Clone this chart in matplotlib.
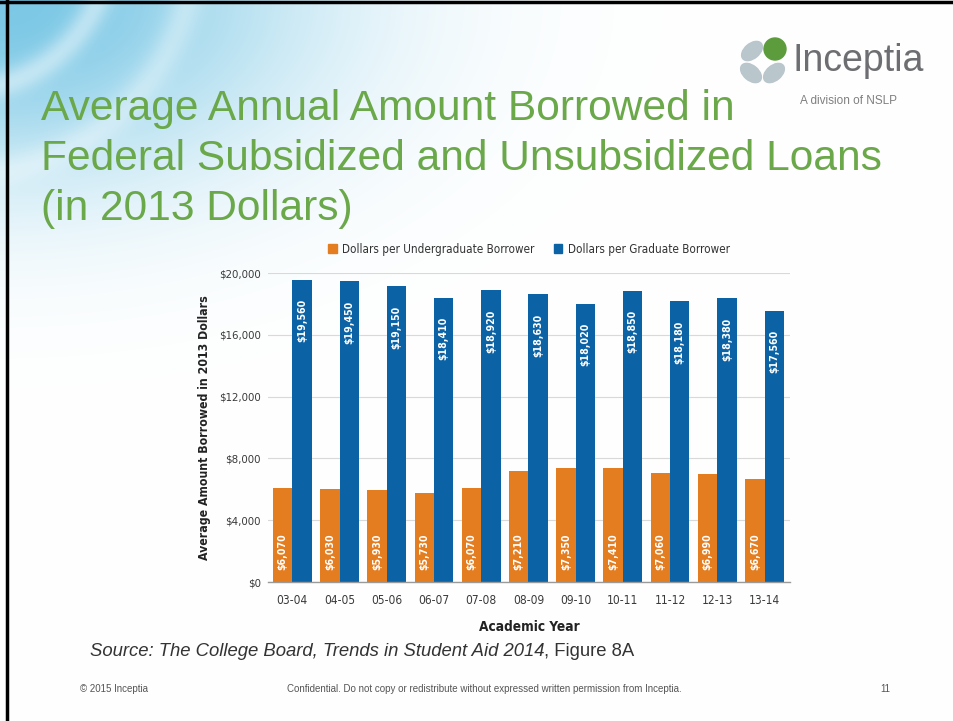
import numpy as np
import matplotlib.pyplot as plt
from matplotlib.patches import Patch, Ellipse, Circle

years = ["03-04", "04-05", "05-06", "06-07", "07-08", "08-09",
         "09-10", "10-11", "11-12", "12-13", "13-14"]
undergrad = [6070, 6030, 5930, 5730, 6070, 7210, 7350, 7410, 7060, 6990, 6670]
graduate = [19560, 19450, 19150, 18410, 18920, 18630, 18020, 18850, 18180, 18380, 17560]
series_names = ["Dollars per Undergraduate Borrower", "Dollars per Graduate Borrower"]
y_ticks = [0, 4000, 8000, 12000, 16000, 20000]

ORANGE = "#E37D20"
BLUE = "#0B63A6"
GREEN = "#6AA84A"
NARROW = dict(family="DejaVu Sans", stretch="condensed")
SANS = ["Liberation Sans", "DejaVu Sans"]

W, H = 954, 721
fig = plt.figure(figsize=(W / 100, H / 100), dpi=100)

# slide background in pixel coordinates: cyan swoosh in the top-left corner
bg = fig.add_axes([0, 0, 1, 1], zorder=-10)
yy, xx = np.mgrid[0:H, 0:W]
glow = np.exp(-((xx / 300.0) ** 2 + (yy / 175.0) ** 2))
r = np.hypot(xx + 40, yy + 60)
rings = (1 - 0.45 * np.exp(-((r - 150) / 14.0) ** 2)
         - 0.35 * np.exp(-((r - 235) / 16.0) ** 2))
alpha = np.clip(glow * rings * 0.85, 0, 1)
cyan = np.array([100, 190, 225]) / 255.0
img = 1 - alpha[..., None] * (1 - cyan)
bg.imshow(img, extent=(0, W, H, 0), aspect="auto", interpolation="bilinear")
bg.set_xlim(0, W)
bg.set_ylim(H, 0)
bg.axis("off")
bg.plot([7, 7], [0, H], color="black", lw=2.5)
bg.plot([0, W], [2, 2], color="black", lw=2.5)

# logo
for (cx, cy, ang) in [(752, 51, -40), (751, 73, 40), (774, 73, -40)]:
    bg.add_patch(Ellipse((cx, cy), 24, 15, angle=ang, color="#b9c6cc"))
bg.add_patch(Circle((775, 49), 11, color="#5c9c3c"))
bg.text(793, 61, "Inceptia", fontsize=27, color="#6d6e71", va="center",
        family=SANS)
bg.text(800, 101, "A division of NSLP", fontsize=8.5, color="#7f7f7f",
        va="center", family=SANS)

# title
title_lines = ["Average Annual Amount Borrowed in",
               "Federal Subsidized and Unsubsidized Loans",
               "(in 2013 Dollars)"]
for i, line in enumerate(title_lines):
    bg.text(41, 109 + 50 * i, line, fontsize=30.6, color=GREEN, va="center",
            family=SANS)

# source and footer
src = bg.text(90, 652, "Source: The College Board, Trends in Student Aid 2014",
              fontsize=13.3, style="italic", color="#333333", va="center",
              family=SANS)
bg.annotate(", Figure 8A", xy=(1, 0), xycoords=src, va="bottom", ha="left",
            fontsize=13.3, color="#333333", family=SANS)
bg.text(80, 689, "\u00a9 2015 Inceptia", fontsize=7, color="#555555",
        va="center", family=SANS)
bg.text(484, 689, "Confidential. Do not copy or redistribute without expressed "
        "written permission from Inceptia.", fontsize=7, color="#555555",
        va="center", ha="center", family=SANS)
bg.text(880, 689, "11", fontsize=7, color="#555555", va="center", family=SANS)

# bar chart
ax = fig.add_axes([268 / W, 1 - 582 / H, (790 - 268) / W, (582 - 273) / H])
x = np.arange(len(years))
w = 0.41
ax.bar(x - w / 2, undergrad, w, color=ORANGE, zorder=2)
ax.bar(x + w / 2, graduate, w, color=BLUE, zorder=2)

for xi, v in zip(x, undergrad):
    ax.annotate(f"${v:,}", (xi - w / 2, 0), xytext=(0, 9),
                textcoords="offset points", rotation=90, ha="center",
                va="bottom", color="white", fontsize=7.6, fontweight="bold",
                zorder=3, **NARROW)
for xi, v in zip(x, graduate):
    ax.annotate(f"${v:,}", (xi + w / 2, v), xytext=(0, -14),
                textcoords="offset points", rotation=90, ha="center",
                va="top", color="white", fontsize=7.6, fontweight="bold",
                zorder=3, **NARROW)

ax.set_xlim(-0.515, 10.54)
ax.set_ylim(0, 20000)
ax.set_yticks(y_ticks)
ax.set_yticklabels([f"${t:,}" for t in y_ticks], fontsize=8.2,
                   color="#3a3a3a", **NARROW)
ax.set_xticks(x)
ax.set_xticklabels(years, fontsize=8.6, color="#3a3a3a", **NARROW)
ax.tick_params(length=0)
ax.tick_params(axis="x", pad=9)
ax.tick_params(axis="y", pad=5)
ax.yaxis.grid(True, color="#d9d9d9", lw=0.8, zorder=0)
ax.set_axisbelow(True)
for side in ["top", "right", "left"]:
    ax.spines[side].set_visible(False)
ax.spines["bottom"].set_color("#9a9a9a")
ax.spines["bottom"].set_linewidth(1.0)
ax.patch.set_alpha(0)

ax.set_xlabel("Academic Year", fontsize=9.8, fontweight="bold",
              color="#222222", labelpad=9, **NARROW)
ax.set_ylabel("Average Amount Borrowed in 2013 Dollars", fontsize=8.8,
              fontweight="bold", color="#222222", labelpad=6, **NARROW)

handles = [Patch(color=ORANGE), Patch(color=BLUE)]
leg = ax.legend(handles, series_names, loc="center",
                bbox_to_anchor=(0.5, (582 - 249) / (582 - 273)), ncol=2,
                frameon=False, handlelength=0.7, handleheight=0.7,
                handletextpad=0.5, columnspacing=1.6,
                prop={"size": 8.4, **NARROW})
for t in leg.get_texts():
    t.set_color("#333333")

fig.savefig("out.png", dpi=100)
